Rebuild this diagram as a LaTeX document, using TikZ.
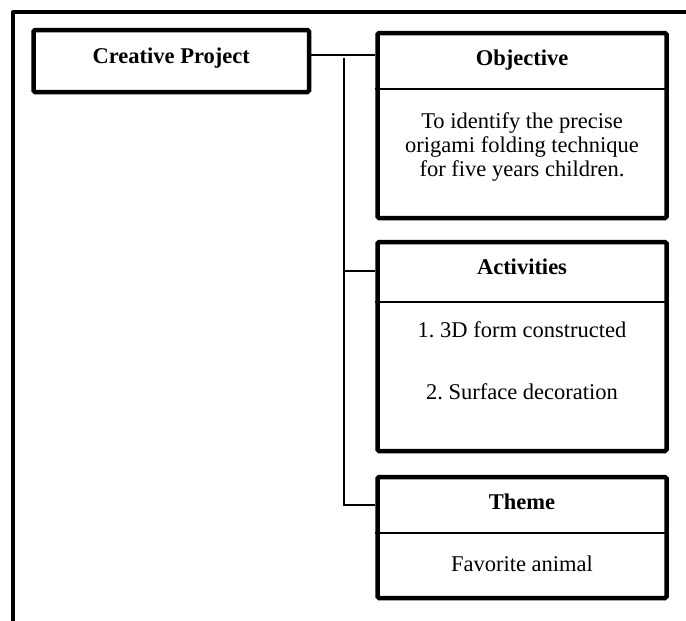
\documentclass[tikz,border=0pt]{standalone}
\usepackage{fontspec}
\setmainfont{Liberation Serif}
\begin{document}
\begin{tikzpicture}[x=1pt,y=-1pt,
  frame/.style={line width=4pt, line join=round},
  boxline/.style={draw, line width=4.5pt, rounded corners=1.5pt, inner sep=0pt},
  link/.style={line width=1.7pt},
  divider/.style={line width=1.8pt},
  title/.style={font=\bfseries\fontsize{22.5}{25}\selectfont, inner sep=0pt},
  body/.style={font=\fontsize{22.5}{24}\selectfont, align=center, inner sep=0pt}]
\useasboundingbox (0,0) rectangle (686,621);
\clip (0,0) rectangle (686,621);

% outer frame (top and left sides)
\draw[frame] (700,12) -- (13,12) -- (13,640);

% main box
\node[boxline, title, minimum width=275.5pt, minimum height=62pt,
      text height=14pt, text depth=10pt] (creative) at (171.25,61) {Creative Project};

% right-hand boxes
\node[boxline, minimum width=289pt, minimum height=185pt] (objective) at (522,125.5) {};
\node[boxline, minimum width=289pt, minimum height=209pt] (activities) at (522,346.5) {};
\node[boxline, minimum width=289pt, minimum height=121pt] (theme) at (522,537.5) {};

% header dividers
\draw[divider] (objective.west |- 0,89) -- (objective.east |- 0,89);
\draw[divider] (activities.west |- 0,302) -- (activities.east |- 0,302);
\draw[divider] (theme.west |- 0,533) -- (theme.east |- 0,533);

% box texts
\node[title, anchor=base] (objtitle) at (522,65) {Objective};
\node[body] (objtext) at (522,147.2) {To identify the precise\\origami folding technique\\for five years children.};
\node[title, anchor=base] (acttitle) at (522,274) {Activities};
\node[body, anchor=base] (actone) at (522,337) {1.\ 3D form constructed};
\node[body, anchor=base] (acttwo) at (522,399) {2.\ Surface decoration};
\node[title, anchor=base] (themetitle) at (522,509) {Theme};
\node[body, anchor=base] (themetext) at (522,571) {Favorite animal};

% connectors
\coordinate (toprow) at (344,55);
\coordinate (trunktop) at (344,58);
\coordinate (branchA) at (344,271);
\coordinate (bendT) at (344,505);
\draw[link] (creative.east |- toprow) -- (objective.west |- toprow);
\draw[link] (trunktop) -- (bendT) -- (theme.west |- bendT);
\draw[link] (branchA) -- (activities.west |- branchA);
\end{tikzpicture}
\end{document}
